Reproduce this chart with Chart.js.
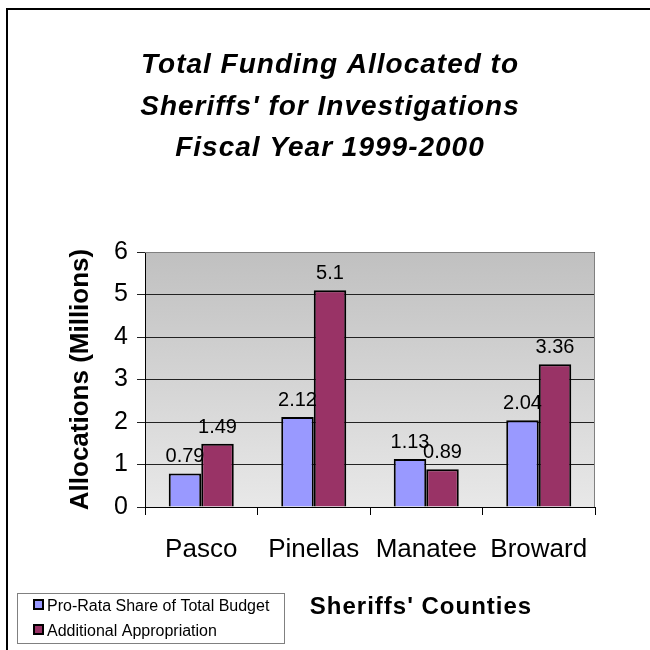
<!DOCTYPE html>
<html>
<head>
<meta charset="utf-8">
<script src="https://cdn.jsdelivr.net/npm/chart.js@4.4.1/dist/chart.umd.min.js"></script>
<style>
  html, body { margin: 0; padding: 0; background: #fff; }
  #wrap { width: 650px; height: 650px; }
</style>
</head>
<body>
<div id="wrap"><canvas id="c" width="650" height="650"></canvas></div>
<script>
// Chart data
const counties = ['Pasco', 'Pinellas', 'Manatee', 'Broward'];
const proRata = [0.79, 2.12, 1.13, 2.04];
const additional = [1.49, 5.1, 0.89, 3.36];
const yTicks = [0, 1, 2, 3, 4, 5, 6];
const seriesNames = ['Pro-Rata Share of Total Budget', 'Additional Appropriation'];
const seriesColors = ['#9999FF', '#993366'];
const titleLines = ['Total Funding Allocated to', "Sheriffs' for Investigations", 'Fiscal Year 1999-2000'];
const xTitle = "Sheriffs' Counties";
const yTitle = 'Allocations (Millions)';

const FONT = '"Liberation Sans", Arial, Helvetica, sans-serif';

// Page frame, plot background gradient
const backdrop = {
  id: 'backdrop',
  beforeDraw(chart) {
    const { ctx, chartArea: a } = chart;
    ctx.save();
    ctx.fillStyle = '#fff';
    ctx.fillRect(0, 0, chart.width, chart.height);
    ctx.fillStyle = '#000';
    ctx.fillRect(6, 8, 2, chart.height - 8);
    ctx.fillRect(6, 8, chart.width - 6, 2);
    const g = ctx.createLinearGradient(0, a.top, 0, a.bottom);
    g.addColorStop(0, '#C0C0C0');
    g.addColorStop(1, '#E8E8E8');
    ctx.fillStyle = g;
    ctx.fillRect(a.left, a.top, a.right - a.left, a.bottom - a.top);
    ctx.restore();
  }
};

// Value labels above the bars, plot border
const valueLabels = {
  id: 'valueLabels',
  afterDatasetsDraw(chart) {
    const { ctx, chartArea: a } = chart;
    ctx.save();
    ctx.strokeStyle = '#808080';
    ctx.lineWidth = 1;
    ctx.beginPath();
    ctx.moveTo(a.left, a.top + 0.5);
    ctx.lineTo(a.right - 0.5, a.top + 0.5);
    ctx.lineTo(a.right - 0.5, a.bottom);
    ctx.stroke();
    ctx.font = '20px ' + FONT;
    ctx.fillStyle = '#000';
    ctx.textAlign = 'center';
    ctx.textBaseline = 'alphabetic';
    chart.data.datasets.forEach((ds, i) => {
      chart.getDatasetMeta(i).data.forEach((bar, j) => {
        ctx.fillText(String(ds.data[j]), bar.x, bar.y - 11);
      });
    });
    ctx.restore();
  }
};

// Title, x-axis title and legend box
const decorations = {
  id: 'decorations',
  afterDraw(chart) {
    const { ctx } = chart;
    ctx.save();
    ctx.fillStyle = '#000';
    ctx.textAlign = 'center';
    ctx.textBaseline = 'alphabetic';
    ctx.font = 'italic bold 28px ' + FONT;
    ctx.letterSpacing = '1px';
    const baselines = [73, 115, 156];
    titleLines.forEach((t, i) => ctx.fillText(t, 330, baselines[i]));

    ctx.font = 'bold 24px ' + FONT;
    ctx.letterSpacing = '1px';
    ctx.textBaseline = 'middle';
    ctx.fillText(xTitle, 421, 607);

    // legend
    ctx.letterSpacing = '0px';
    ctx.fillStyle = '#fff';
    ctx.fillRect(17, 593, 267, 50);
    ctx.strokeStyle = '#808080';
    ctx.lineWidth = 1;
    ctx.strokeRect(17.5, 593.5, 267, 50);
    ctx.font = '16px ' + FONT;
    ctx.textAlign = 'left';
    const rows = [605, 630];
    seriesNames.forEach((name, i) => {
      ctx.fillStyle = '#000';
      ctx.fillRect(33, rows[i] - 6, 11, 11);
      ctx.fillStyle = seriesColors[i];
      ctx.fillRect(35, rows[i] - 4, 7, 7);
      ctx.fillStyle = '#000';
      ctx.fillText(name, 47, rows[i] + 2);
    });
    ctx.restore();
  }
};

new Chart(document.getElementById('c'), {
  type: 'bar',
  data: {
    labels: counties,
    datasets: [
      { label: seriesNames[0], data: proRata, backgroundColor: seriesColors[0], borderColor: '#000', borderWidth: 2 },
      { label: seriesNames[1], data: additional, backgroundColor: seriesColors[1], borderColor: '#000', borderWidth: 2 }
    ]
  },
  options: {
    responsive: false,
    animation: false,
    devicePixelRatio: 1,
    datasets: { bar: { categoryPercentage: 0.578, barPercentage: 1 } },
    layout: { padding: { left: 0, top: 252, right: 55, bottom: 0 } },
    plugins: { legend: { display: false }, title: { display: false }, tooltip: { enabled: false } },
    scales: {
      x: {
        afterFit(scale) { scale.height = 143; },
        grid: { drawOnChartArea: false, drawTicks: true, tickLength: 8, offset: true, color: '#000', lineWidth: 1 },
        border: { display: true, color: '#000', width: 1 },
        ticks: { font: { family: FONT, size: 26 }, color: '#000', padding: 19, maxRotation: 0 }
      },
      y: {
        min: 0,
        max: 6,
        afterFit(scale) { scale.width = 145; },
        afterBuildTicks(scale) { scale.ticks = yTicks.map(v => ({ value: v })); },
        grid: { color: '#222', lineWidth: 1, tickLength: 8, drawTicks: true },
        border: { display: true, color: '#000', width: 1 },
        ticks: { font: { family: FONT, size: 25 }, color: '#000', padding: 9 },
        title: { display: true, text: yTitle, color: '#000', font: { family: FONT, size: 26, weight: 'bold' }, padding: { top: 65, bottom: 0 } }
      }
    }
  },
  plugins: [backdrop, valueLabels, decorations]
});
</script>
</body>
</html>
